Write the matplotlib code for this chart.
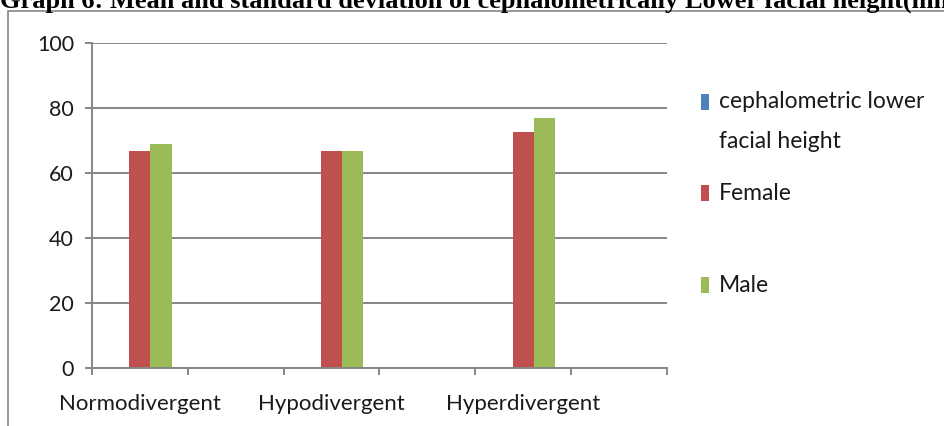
import numpy as np
import matplotlib.pyplot as plt
from matplotlib.patches import Rectangle

# chart data
categories = ['Normodivergent', '', 'Hypodivergent', '', 'Hyperdivergent', '']
lower_facial_height = [np.nan] * 6
female = [66.8, np.nan, 66.8, np.nan, 72.7, np.nan]
male = [68.9, np.nan, 66.8, np.nan, 77.0, np.nan]
series_names = ['cephalometric lower', 'Female', 'Male']
colors = ['#4F81BD', '#C0504D', '#9BBB59']

W, H = 945, 426
plt.rcParams['font.family'] = ['Lato', 'DejaVu Sans']
fig = plt.figure(figsize=(W / 100, H / 100), dpi=100)


def fx(x):
    return x / W


def fy(y):
    return 1 - y / H


# outer chart frame (only left and top edges fall inside the picture)
fig.patches.append(Rectangle((fx(8), -0.1), 1.2, fy(10.5) + 0.1, transform=fig.transFigure,
                             fill=False, edgecolor='#868686', linewidth=1.2))

# caption, clipped at the top of the picture as in the source
fig.text(0, fy(8), 'Graph 6: Mean and standard deviation of cephalometrically Lower facial height(mm)',
         family='Liberation Serif', fontweight='bold', fontsize=19, va='baseline', ha='left')

ax = fig.add_axes([fx(92), fy(368), fx(667) - fx(92), fy(43) - fy(368)])

x = np.arange(len(categories))
w = 0.22
bars = []
for i, vals in enumerate([lower_facial_height, female, male]):
    bars.append(ax.bar(x + (i - 1) * w, vals, w, color=colors[i], linewidth=0))

ax.set_xlim(-0.5, len(categories) - 0.5)
ax.set_ylim(0, 100)
ax.set_yticks(range(0, 101, 20))
ax.yaxis.grid(True, color='#868686', linewidth=1.4)
ax.set_axisbelow(True)

for s in ['top', 'right']:
    ax.spines[s].set_visible(False)
for s in ['left', 'bottom']:
    ax.spines[s].set_color('#868686')
    ax.spines[s].set_linewidth(1.4)

ax.set_xticks(x)
ax.set_xticklabels(categories)
ax.set_xticks(np.arange(-0.5, len(categories), 1), minor=True)
ax.tick_params(axis='x', which='major', length=0, pad=19, labelsize=16, labelcolor='#1a1a1a')
ax.tick_params(axis='x', which='minor', length=5, width=1.4, color='#868686')
ax.tick_params(axis='y', length=5, width=1.4, color='#868686', pad=8, labelsize=15.5,
               labelcolor='#1a1a1a')

# legend drawn entry by entry to keep Excel's uneven spacing
legend_y = [102, 193, 285]
for name, col, y in zip(series_names, colors, legend_y):
    fig.patches.append(Rectangle((fx(701), fy(y + 8)), fx(8), 16 / H, transform=fig.transFigure,
                                 facecolor=col, edgecolor='none'))
    fig.text(fx(719), fy(y), name, fontsize=16.5, va='center', ha='left', color='#1a1a1a')
fig.text(fx(719), fy(142), 'facial height', fontsize=16.5, va='center', ha='left', color='#1a1a1a')

fig.savefig('out.png', dpi=100)
